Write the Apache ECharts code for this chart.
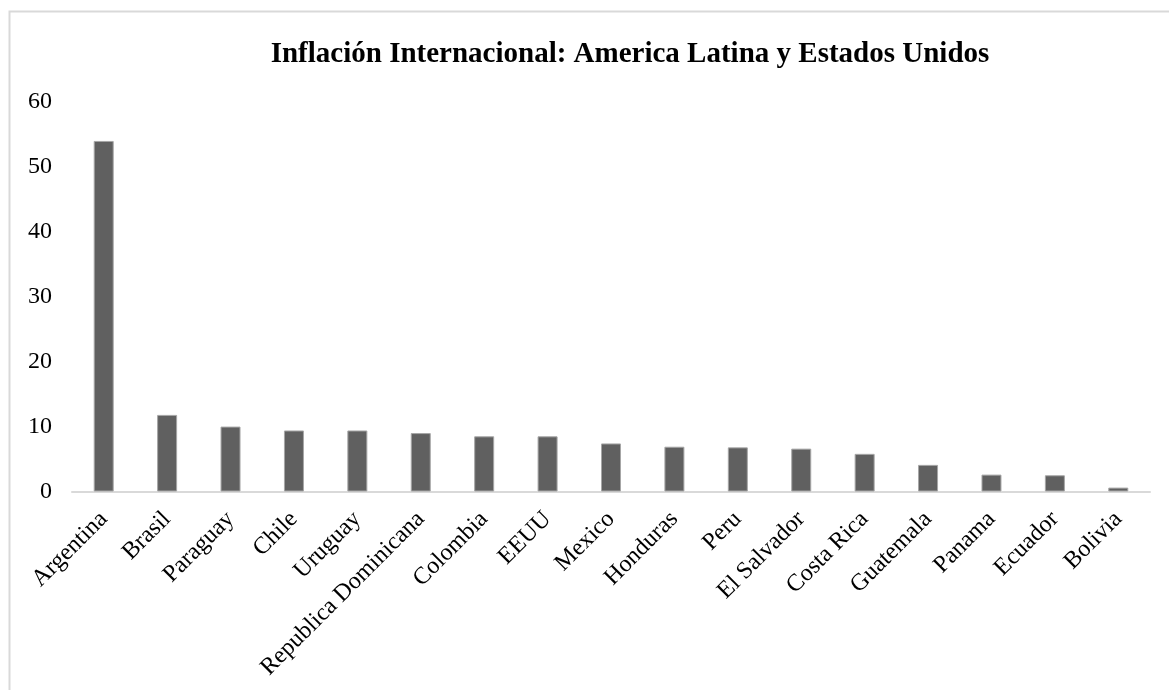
<!DOCTYPE html>
<html>
<head>
<meta charset="utf-8">
<title>Inflación Internacional</title>
<script src="https://cdn.jsdelivr.net/npm/echarts@6/dist/echarts.min.js"></script>
<style>
  html, body { margin: 0; padding: 0; background: #ffffff; }
  #chart { width: 1169px; height: 690px; }
</style>
</head>
<body>
<div id="chart"></div>
<script>
// Countries, ordered from highest to lowest inflation
const countries = [
  'Argentina', 'Brasil', 'Paraguay', 'Chile', 'Uruguay',
  'Republica Dominicana', 'Colombia', 'EEUU', 'Mexico', 'Honduras',
  'Peru', 'El Salvador', 'Costa Rica', 'Guatemala', 'Panama',
  'Ecuador', 'Bolivia'
];

// Annual inflation (%)
const inflation = [
  54.0, 11.8, 10.0, 9.4, 9.4,
  9.0, 8.5, 8.5, 7.4, 6.9,
  6.8, 6.6, 5.8, 4.1, 2.6,
  2.5, 0.6
];

// Value axis ticks
const yTicks = [0, 10, 20, 30, 40, 50, 60];

const serif = '"Liberation Serif", "Times New Roman", serif';

const chart = echarts.init(document.getElementById('chart'), null, { renderer: 'canvas' });

chart.setOption({
  backgroundColor: '#ffffff',
  animation: false,
  title: {
    text: 'Inflación Internacional: America Latina y Estados Unidos',
    left: 625,
    top: 35,
    textAlign: 'center',
    textStyle: {
      fontFamily: serif,
      fontWeight: 'bold',
      fontSize: 29,
      color: '#000000'
    }
  },
  graphic: [{
    type: 'rect',
    left: 7,
    top: 9,
    shape: { width: 1200, height: 720 },
    style: { fill: 'none', stroke: '#d9d9d9', lineWidth: 2 },
    silent: true,
    z: -1
  }],
  grid: {
    left: 72,
    right: 19,
    top: 102,
    bottom: 198.5
  },
  xAxis: {
    type: 'category',
    data: countries,
    axisLine: { show: true, lineStyle: { color: '#d9d9d9', width: 2 } },
    axisTick: { show: false },
    axisLabel: {
      interval: 0,
      rotate: 45,
      margin: 24,
      fontFamily: serif,
      fontSize: 24,
      color: '#000000'
    },
    splitLine: { show: false }
  },
  yAxis: {
    type: 'value',
    min: yTicks[0],
    max: yTicks[yTicks.length - 1],
    interval: yTicks[1] - yTicks[0],
    axisLine: { show: false },
    axisTick: { show: false },
    splitLine: { show: false },
    axisLabel: {
      margin: 20,
      fontFamily: serif,
      fontSize: 24,
      color: '#000000'
    }
  },
  series: [{
    type: 'bar',
    data: inflation,
    barWidth: 20,
    itemStyle: {
      color: '#606060',
      borderColor: '#a6a6a6',
      borderWidth: 1
    }
  }]
});
</script>
</body>
</html>
